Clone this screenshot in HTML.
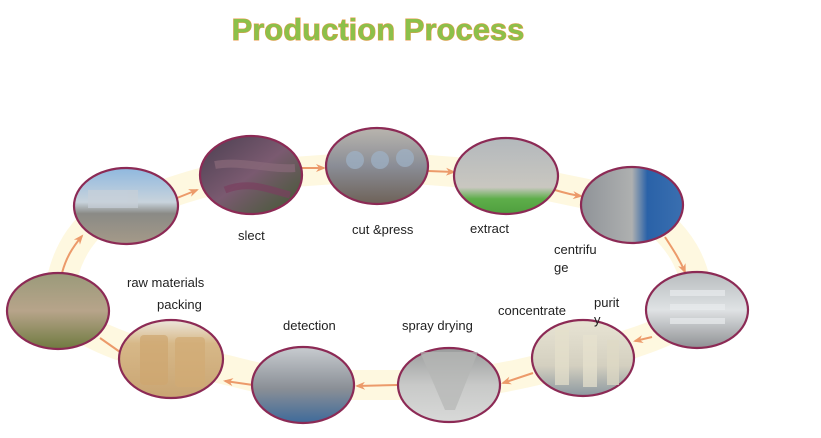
<!DOCTYPE html>
<html><head><meta charset="utf-8"><style>
html,body{margin:0;padding:0;background:#fff;width:821px;height:438px;overflow:hidden}
svg{display:block}
text{font-family:"Liberation Sans","DejaVu Sans",sans-serif;fill:#222}
</style></head><body>
<svg width="821" height="438" viewBox="0 0 821 438" xmlns="http://www.w3.org/2000/svg">
<defs>
<linearGradient id="gRaw" x1="0" y1="0" x2="0" y2="1"><stop offset="0" stop-color="#9a9a7a"/><stop offset=".5" stop-color="#b7a48a"/><stop offset="1" stop-color="#6f7a40"/></linearGradient>
<linearGradient id="gFac" x1="0" y1="0" x2="0" y2="1"><stop offset="0" stop-color="#8fb8df"/><stop offset=".45" stop-color="#c8d3dc"/><stop offset=".6" stop-color="#8a8a86"/><stop offset="1" stop-color="#a59a88"/></linearGradient>
<linearGradient id="gSel" x1="0" y1="0" x2="1" y2="1"><stop offset="0" stop-color="#4a3f50"/><stop offset=".5" stop-color="#7a5a70"/><stop offset="1" stop-color="#3f5a30"/></linearGradient>
<linearGradient id="gCut" x1="0" y1="0" x2="0" y2="1"><stop offset="0" stop-color="#b9b5ae"/><stop offset=".5" stop-color="#8a8d96"/><stop offset="1" stop-color="#6e6258"/></linearGradient>
<linearGradient id="gExt" x1="0" y1="0" x2="0" y2="1"><stop offset="0" stop-color="#b3b8bc"/><stop offset=".65" stop-color="#c9c7c0"/><stop offset=".8" stop-color="#5eae4a"/><stop offset="1" stop-color="#4f9e3e"/></linearGradient>
<linearGradient id="gCen" x1="0" y1="0" x2="1" y2="0"><stop offset="0" stop-color="#8f9398"/><stop offset=".5" stop-color="#aeb0b0"/><stop offset=".65" stop-color="#2a62a8"/><stop offset="1" stop-color="#3a6fb0"/></linearGradient>
<linearGradient id="gPur" x1="0" y1="0" x2="0" y2="1"><stop offset="0" stop-color="#b8bcbf"/><stop offset=".5" stop-color="#dfe2e4"/><stop offset="1" stop-color="#8f9194"/></linearGradient>
<linearGradient id="gCon" x1="0" y1="0" x2="0" y2="1"><stop offset="0" stop-color="#e8e4d4"/><stop offset=".6" stop-color="#d4d0c0"/><stop offset="1" stop-color="#8c98a0"/></linearGradient>
<linearGradient id="gSpr" x1="0" y1="0" x2="0" y2="1"><stop offset="0" stop-color="#9a9c9c"/><stop offset=".5" stop-color="#c8c9c8"/><stop offset="1" stop-color="#d8d9d8"/></linearGradient>
<linearGradient id="gDet" x1="0" y1="0" x2="0" y2="1"><stop offset="0" stop-color="#c8ccd0"/><stop offset=".55" stop-color="#8a8f96"/><stop offset="1" stop-color="#3e6a9a"/></linearGradient>
<linearGradient id="gPak" x1="0" y1="0" x2="0" y2="1"><stop offset="0" stop-color="#ece6dc"/><stop offset=".3" stop-color="#d7b888"/><stop offset="1" stop-color="#c9a573"/></linearGradient>
<marker id="ar" markerWidth="10" markerHeight="8" refX="8" refY="4" orient="auto" markerUnits="userSpaceOnUse"><path d="M0,0 L10,4 L0,8 L3,4 z" fill="#ec9a6a"/></marker>
</defs>

<path d="M58,311 C60,250 90,215 126,206 C170,195 200,178 251,175 L377,166 L506,176 C560,190 600,195 632,205 C680,230 700,270 697,310 C680,330 630,345 583,358 C540,370 500,380 449,385 L303,385 C260,382 220,365 171,359 C120,350 80,330 58,311 Z" fill="none" stroke="#fdf3cc" stroke-width="30" opacity=".6"/>

<g stroke="#ec9a6a" stroke-width="2" fill="none">
<path d="M62,273 C66,258 72,248 82,236" marker-end="url(#ar)"/>
<path d="M177,198 L197,190" marker-end="url(#ar)"/>
<path d="M302,168 L324,168" marker-end="url(#ar)"/>
<path d="M428,171 L454,172" marker-end="url(#ar)"/>
<path d="M555,190 C565,193 572,195 581,196" marker-end="url(#ar)"/>
<path d="M665,237 C672,248 679,258 685,272" marker-end="url(#ar)"/>
<path d="M652,337 L635,341" marker-end="url(#ar)"/>
<path d="M533,373 L503,383" marker-end="url(#ar)"/>
<path d="M397,385 L357,386" marker-end="url(#ar)"/>
<path d="M253,385 L225,381" marker-end="url(#ar)"/>
<path d="M120,352 L100,338"/>
</g>

<g stroke="#8c2a55" stroke-width="2.2">
<ellipse cx="58" cy="311" rx="51" ry="38" fill="url(#gRaw)"/>
<ellipse cx="126" cy="206" rx="52" ry="38" fill="url(#gFac)"/>
<ellipse cx="251" cy="175" rx="51" ry="39" fill="url(#gSel)"/>
<ellipse cx="377" cy="166" rx="51" ry="38" fill="url(#gCut)"/>
<ellipse cx="506" cy="176" rx="52" ry="38" fill="url(#gExt)"/>
<ellipse cx="632" cy="205" rx="51" ry="38" fill="url(#gCen)"/>
<ellipse cx="697" cy="310" rx="51" ry="38" fill="url(#gPur)"/>
<ellipse cx="583" cy="358" rx="51" ry="38" fill="url(#gCon)"/>
<ellipse cx="449" cy="385" rx="51" ry="37" fill="url(#gSpr)"/>
<ellipse cx="303" cy="385" rx="51" ry="38" fill="url(#gDet)"/>
<ellipse cx="171" cy="359" rx="52" ry="39" fill="url(#gPak)"/>
</g>
<g opacity=".7">
<rect x="140" y="335" width="28" height="50" rx="4" fill="#cfa770"/>
<rect x="175" y="337" width="30" height="50" rx="4" fill="#d2ab74"/>
<path d="M420,352 L478,352 L455,410 L445,410 Z" fill="#b5b6b5"/>
<rect x="555" y="330" width="14" height="55" fill="#e6e1cc"/>
<rect x="583" y="335" width="14" height="52" fill="#e8e3cf"/>
<rect x="607" y="340" width="12" height="45" fill="#e0dbc6"/>
<rect x="670" y="290" width="55" height="6" fill="#e9ecee"/>
<rect x="670" y="304" width="55" height="6" fill="#e9ecee"/>
<rect x="670" y="318" width="55" height="6" fill="#e9ecee"/>
<circle cx="355" cy="160" r="9" fill="#9fb3c8"/>
<circle cx="380" cy="160" r="9" fill="#9fb3c8"/>
<circle cx="405" cy="158" r="9" fill="#9fb3c8"/>
<path d="M215,165 C240,160 270,170 295,168" stroke="#8a6a7a" stroke-width="8" fill="none"/>
<path d="M225,190 C250,180 270,190 290,195" stroke="#7a3f5f" stroke-width="7" fill="none"/>
<rect x="88" y="190" width="50" height="18" fill="#c8d0d8"/>
</g>

<g font-size="13">
<text x="238" y="240">slect</text>
<text x="352" y="234">cut &amp;press</text>
<text x="470" y="233">extract</text>
<text x="554" y="254">centrifu</text>
<text x="554" y="272">ge</text>
<text x="498" y="315">concentrate</text>
<text x="594" y="307">purit</text>
<text x="594" y="324">y</text>
<text x="402" y="330">spray drying</text>
<text x="283" y="330">detection</text>
<text x="127" y="287">raw materials</text>
<text x="157" y="309">packing</text>
</g>

<text x="378" y="40" text-anchor="middle" font-size="31" font-weight="bold" style="font-family:'Liberation Sans',sans-serif;fill:#8cc04a;stroke:#e89a4a;stroke-width:1;paint-order:stroke">Production Process</text>
</svg>
</body></html>
